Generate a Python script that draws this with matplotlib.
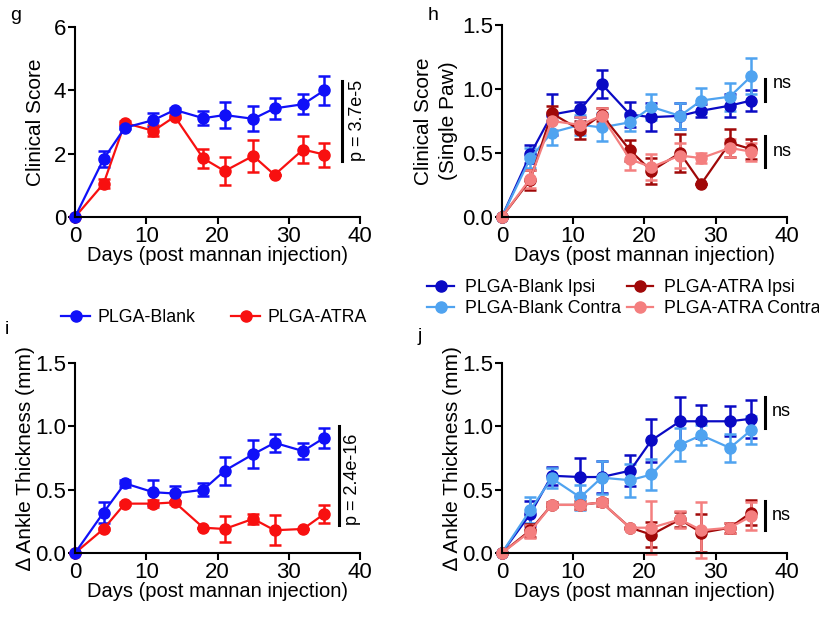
import numpy as np
import matplotlib
matplotlib.use("Agg")
import matplotlib.pyplot as plt
from matplotlib.lines import Line2D

plt.rcParams['font.family'] = ['Liberation Sans', 'DejaVu Sans']

days = [0, 4, 7, 11, 14, 18, 21, 25, 28, 32, 35]

# g: clinical score (whole animal)
g_blank = [0, 1.83, 2.82, 3.06, 3.38, 3.12, 3.22, 3.10, 3.43, 3.56, 4.00]
g_blank_err = [0, 0.25, 0.05, 0.22, 0.05, 0.23, 0.42, 0.40, 0.34, 0.32, 0.45]
g_atra = [0, 1.05, 2.97, 2.72, 3.17, 1.85, 1.45, 1.93, 1.33, 2.13, 1.97]
g_atra_err = [0, 0.15, 0.05, 0.17, 0.05, 0.30, 0.45, 0.50, 0.0, 0.42, 0.38]

# h: clinical score (single paw)
h_blank_ipsi = [0, 0.49, 0.80, 0.84, 1.04, 0.80, 0.78, 0.79, 0.83, 0.87, 0.91]
h_blank_ipsi_err = [0, 0.07, 0.16, 0.06, 0.11, 0.10, 0.11, 0.10, 0.05, 0.09, 0.08]
h_blank_contra = [0, 0.46, 0.66, 0.72, 0.70, 0.74, 0.86, 0.79, 0.91, 0.94, 1.10]
h_blank_contra_err = [0, 0.08, 0.10, 0.08, 0.11, 0.07, 0.10, 0.10, 0.10, 0.11, 0.14]
h_atra_ipsi = [0, 0.29, 0.81, 0.68, 0.80, 0.52, 0.36, 0.50, 0.26, 0.58, 0.53]
h_atra_ipsi_err = [0, 0.08, 0.06, 0.07, 0.05, 0.08, 0.10, 0.15, 0.0, 0.11, 0.08]
h_atra_contra = [0, 0.30, 0.75, 0.72, 0.79, 0.45, 0.39, 0.48, 0.46, 0.54, 0.51]
h_atra_contra_err = [0, 0.07, 0.07, 0.06, 0.06, 0.08, 0.10, 0.10, 0.04, 0.07, 0.07]

# i: ankle thickness change (whole animal)
i_blank = [0, 0.32, 0.55, 0.48, 0.47, 0.50, 0.65, 0.78, 0.87, 0.805, 0.91]
i_blank_err = [0, 0.08, 0.03, 0.10, 0.06, 0.05, 0.11, 0.11, 0.07, 0.06, 0.08]
i_atra = [0, 0.19, 0.39, 0.39, 0.40, 0.20, 0.19, 0.27, 0.18, 0.19, 0.31]
i_atra_err = [0, 0.01, 0.01, 0.03, 0.01, 0.0, 0.10, 0.04, 0.12, 0.0, 0.07]

# j: ankle thickness change (single paw)
j_blank_ipsi = [0, 0.31, 0.61, 0.60, 0.60, 0.65, 0.89, 1.04, 1.04, 1.04, 1.06]
j_blank_ipsi_err = [0, 0.10, 0.07, 0.15, 0.13, 0.12, 0.17, 0.19, 0.13, 0.12, 0.15]
j_blank_contra = [0, 0.34, 0.59, 0.44, 0.595, 0.575, 0.62, 0.855, 0.93, 0.83, 0.97]
j_blank_contra_err = [0, 0.10, 0.08, 0.10, 0.13, 0.13, 0.12, 0.13, 0.08, 0.11, 0.11]
j_atra_ipsi = [0, 0.18, 0.38, 0.38, 0.40, 0.20, 0.145, 0.265, 0.16, 0.20, 0.32]
j_atra_ipsi_err = [0, 0.05, 0.02, 0.03, 0.03, 0.0, 0.10, 0.06, 0.15, 0.04, 0.10]
j_atra_contra = [0, 0.17, 0.38, 0.38, 0.40, 0.20, 0.20, 0.265, 0.18, 0.20, 0.29]
j_atra_contra_err = [0, 0.05, 0.02, 0.03, 0.03, 0.0, 0.21, 0.07, 0.22, 0.04, 0.11]

C_BLUE = '#1010f8'
C_RED = '#f81010'
C_DBLUE = '#0a0ac4'
C_LBLUE = '#4fa3f0'
C_DRED = '#a00808'
C_LRED = '#f47f7f'

TICK_FS = 16
XLAB_FS = 14.5
YLAB_FS = 15
LEG_FS = 12.8

fig = plt.figure(figsize=(8.2, 6.2), dpi=100)
ax_g = fig.add_axes([0.0915, 0.650, 0.3476, 0.3065])
ax_h = fig.add_axes([0.612, 0.650, 0.3476, 0.3097])
ax_i = fig.add_axes([0.0915, 0.108, 0.3476, 0.3065])
ax_j = fig.add_axes([0.612, 0.108, 0.3476, 0.3065])


def series(ax, y, err, color):
    ax.errorbar(days, y, yerr=err, color=color, lw=1.6, marker='o', ms=8,
                capsize=4.5, capthick=1.8, elinewidth=1.8, clip_on=False)


def style(ax, ymax, yticks, fmt):
    for s in ['top', 'right']:
        ax.spines[s].set_visible(False)
    for s in ['left', 'bottom']:
        ax.spines[s].set_linewidth(1.5)
    ax.set_xlim(0, 40)
    ax.set_ylim(0, ymax)
    ax.set_xticks([0, 10, 20, 30, 40])
    ax.set_yticks(yticks)
    ax.set_yticklabels([fmt.format(t) for t in yticks])
    ax.tick_params(width=1.5, length=5, labelsize=TICK_FS, pad=1.5)
    ax.set_xlabel('Days (post mannan injection)', fontsize=XLAB_FS, labelpad=-1)


def sig(ax, x, y0, y1, text, tx, ty, rot=0):
    ax.plot([x, x], [y0, y1], color='black', lw=2.2, clip_on=False)
    ax.text(tx, ty, text, fontsize=13, rotation=rot, ha='center', va='center',
            clip_on=False)


# g
series(ax_g, g_atra, g_atra_err, C_RED)
series(ax_g, g_blank, g_blank_err, C_BLUE)
style(ax_g, 6, [0, 2, 4, 6], '{:g}')
ax_g.set_ylabel('Clinical Score', fontsize=YLAB_FS, labelpad=6)
sig(ax_g, 37.5, 4.29, 1.77, 'p = 3.7e-5', 39.6, 3.05, rot=90)

# h
series(ax_h, h_blank_ipsi, h_blank_ipsi_err, C_DBLUE)
series(ax_h, h_blank_contra, h_blank_contra_err, C_LBLUE)
series(ax_h, h_atra_ipsi, h_atra_ipsi_err, C_DRED)
series(ax_h, h_atra_contra, h_atra_contra_err, C_LRED)
style(ax_h, 1.5, [0, 0.5, 1.0, 1.5], '{:.1f}')
ax_h.set_ylabel('Clinical Score\n(Single Paw)', fontsize=YLAB_FS, labelpad=3,
                linespacing=1.35)
sig(ax_h, 37.0, 1.08, 0.91, 'ns', 39.3, 1.04)
sig(ax_h, 37.0, 0.63, 0.39, 'ns', 39.3, 0.51)

# i
series(ax_i, i_atra, i_atra_err, C_RED)
series(ax_i, i_blank, i_blank_err, C_BLUE)
style(ax_i, 1.5, [0, 0.5, 1.0, 1.5], '{:.1f}')
ax_i.set_ylabel('\u2206 Ankle Thickness (mm)', fontsize=YLAB_FS, labelpad=0)
sig(ax_i, 37.0, 1.0, 0.22, 'p = 2.4e-16', 39.0, 0.58, rot=90)

# j
series(ax_j, j_blank_ipsi, j_blank_ipsi_err, C_DBLUE)
series(ax_j, j_blank_contra, j_blank_contra_err, C_LBLUE)
series(ax_j, j_atra_ipsi, j_atra_ipsi_err, C_DRED)
series(ax_j, j_atra_contra, j_atra_contra_err, C_LRED)
style(ax_j, 1.5, [0, 0.5, 1.0, 1.5], '{:.1f}')
ax_j.set_ylabel('\u2206 Ankle Thickness (mm)', fontsize=YLAB_FS, labelpad=0)
sig(ax_j, 36.9, 1.23, 0.99, 'ns', 39.25, 1.12)
sig(ax_j, 36.9, 0.41, 0.185, 'ns', 39.25, 0.30)


def handle(c):
    return Line2D([], [], color=c, lw=1.6, marker='o', ms=8)


fig.legend([handle(C_BLUE), handle(C_RED)], ['PLGA-Blank', 'PLGA-ATRA'],
           loc='center left', bbox_to_anchor=(0.075, 1 - 318 / 620), ncol=2,
           frameon=False, fontsize=LEG_FS, handlelength=1.6, handletextpad=0.45,
           columnspacing=2.0, borderpad=0, borderaxespad=0)

fig.legend([handle(C_DBLUE), handle(C_LBLUE), handle(C_DRED), handle(C_LRED)],
           ['PLGA-Blank Ipsi', 'PLGA-Blank Contra', 'PLGA-ATRA Ipsi',
            'PLGA-ATRA Contra'],
           loc='center left', bbox_to_anchor=(0.521, 1 - 298 / 620), ncol=2,
           frameon=False, fontsize=LEG_FS, handlelength=1.5, handletextpad=0.6,
           columnspacing=0.35, labelspacing=0.2, borderpad=0, borderaxespad=0)

for lbl, x, y in [('g', 10, 15), ('h', 428, 15), ('i', 5, 330), ('j', 418, 336)]:
    fig.text(x / 820, 1 - y / 620, lbl, fontsize=14, ha='left', va='center')

fig.savefig('out.png', dpi=100)
